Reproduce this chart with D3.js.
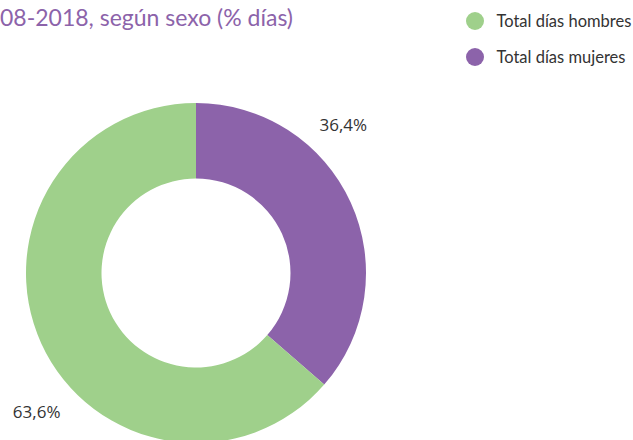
<html>
<head>
<meta charset="utf-8">
<title>Días según sexo</title>
<style>
  body { margin: 0; background: #fff; overflow: hidden; }
  svg { display: block; }
</style>
</head>
<body>
<script src="https://cdn.jsdelivr.net/npm/d3@7/dist/d3.min.js"></script>
<script>
    var w = 633, h = 440;
    var categories = ['Total días hombres', 'Total días mujeres'];
    var values = [63.6, 36.4];
    var labels = ['63,6%', '36,4%'];
    var colors = ['#9fd08b', '#8c63aa'];
    var title = '2008-2018, según sexo (% días)';

    var cx = 196, cy = 273, outerR = 170, innerR = 94.5, labelR = 210;

    var svg = d3.select('body').append('svg')
        .attr('width', w)
        .attr('height', h);

    // title, cut off on the left like the original
    svg.append('text')
        .attr('x', 293)
        .attr('y', 26)
        .attr('text-anchor', 'end')
        .style('font-family', 'Lato, "Open Sans", sans-serif')
        .style('font-size', '23px')
        .style('fill', '#8c63aa')
        .text(title);

    // mujeres first, clockwise from the top
    var pie = d3.pie().sort(null).value(function (i) { return values[i]; });
    var arcs = pie([1, 0]);
    var arc = d3.arc().innerRadius(innerR).outerRadius(outerR);

    var g = svg.append('g').attr('transform', 'translate(' + cx + ',' + cy + ')');

    g.selectAll('path')
        .data(arcs)
        .enter()
        .append('path')
        .attr('d', arc)
        .attr('fill', function (d) { return colors[d.data]; });

    function labelAngle(d) {
        return (d.startAngle + d.endAngle) / 2 - 0.325;
    }

    // labels sit a little up-left of the ring
    var lg = g.append('g').attr('transform', 'translate(-6,-4.5)');

    lg.selectAll('text.lbl')
        .data(arcs)
        .enter()
        .append('text')
        .attr('class', 'lbl')
        .attr('x', function (d) { return labelR * Math.sin(labelAngle(d)); })
        .attr('y', function (d) { return -labelR * Math.cos(labelAngle(d)); })
        .attr('text-anchor', 'middle')
        .attr('dy', '0.35em')
        .style('font-family', '"Open Sans", sans-serif')
        .style('font-size', '17px')
        .style('fill', '#333')
        .text(function (d) { return labels[d.data]; });

    // legend
    var legend = svg.selectAll('g.legend')
        .data(categories)
        .enter()
        .append('g')
        .attr('class', 'legend')
        .attr('transform', function (d, i) { return 'translate(475,' + (21 + i * 36) + ')'; });

    legend.append('circle')
        .attr('r', 9)
        .attr('fill', function (d, i) { return colors[i]; });

    legend.append('text')
        .attr('x', 21.5)
        .attr('y', 6)
        .style('font-family', 'Lato, "Open Sans", sans-serif')
        .style('font-size', '16.5px')
        .style('fill', '#333')
        .text(function (d) { return d; });
</script>
</body>
</html>
